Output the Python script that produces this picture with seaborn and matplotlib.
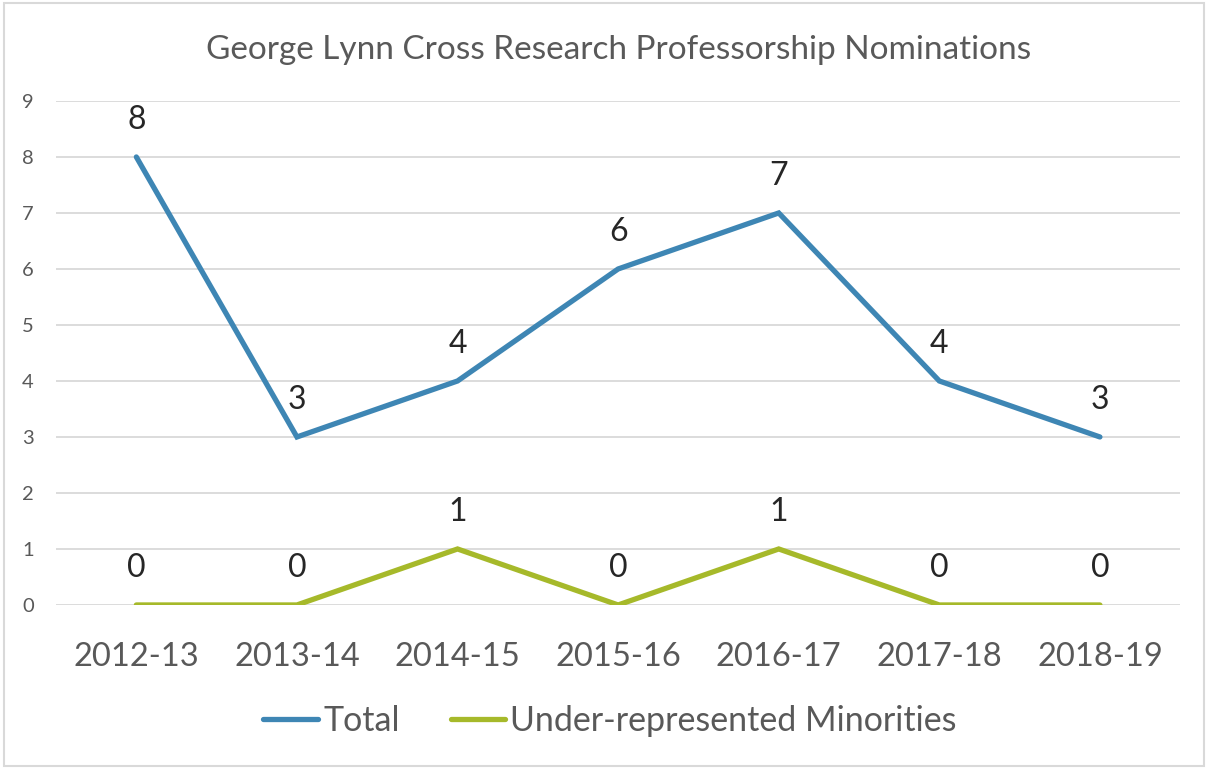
import matplotlib.pyplot as plt
import pandas as pd
import seaborn as sns

years = ["2012-13", "2013-14", "2014-15", "2015-16", "2016-17", "2017-18", "2018-19"]
total = [8, 3, 4, 6, 7, 4, 3]
urm = [0, 0, 1, 0, 1, 0, 0]
series_names = ["Total", "Under-represented Minorities"]
colors = ["#3E86B4", "#A6B92A"]

df = pd.DataFrame({
    "Year": years * 2,
    "Count": total + urm,
    "Series": [series_names[0]] * len(years) + [series_names[1]] * len(years),
})

sns.set_style("white")
plt.rcParams["font.family"] = ["Lato", "DejaVu Sans"]
text_color = "#595959"

fig = plt.figure(figsize=(12.08, 7.69), dpi=100)
ax = fig.add_axes([0.0464, 0.2133, 0.9306, 0.6554])
fig.patches.append(plt.Rectangle((0.003, 0.004), 0.994, 0.992, transform=fig.transFigure,
                                 fill=False, edgecolor="#D9D9D9", linewidth=1.5))

sns.lineplot(data=df, x="Year", y="Count", hue="Series", palette=colors,
             linewidth=3.8, sort=False, ax=ax, legend=False)
for line in ax.lines:
    line.set_solid_capstyle("round")
    line.set_solid_joinstyle("miter")

# data labels above each point
for vals in (total, urm):
    for i, v in enumerate(vals):
        ax.annotate(str(v), (i, v), xytext=(0, 16), textcoords="offset points",
                    ha="center", va="bottom", fontsize=23, color="#262626")

ax.set_xlim(-0.5, len(years) - 0.5)
ax.set_ylim(0, 9)
ax.set_yticks(range(0, 10))
ax.yaxis.grid(True, color="#D9D9D9", linewidth=1.3)
ax.set_axisbelow(True)
for s in ax.spines.values():
    s.set_visible(False)
ax.tick_params(axis="y", labelsize=14.5, colors=text_color, length=0, pad=16)
ax.tick_params(axis="x", labelsize=23.5, colors=text_color, length=0, pad=27)
ax.set_xlabel("")
ax.set_ylabel("")
ax.set_title("George Lynn Cross Research Professorship Nominations",
             fontsize=24, color=text_color, pad=30)

handles = [plt.Line2D([], [], color=c, linewidth=3.8, solid_capstyle="round") for c in colors]
fig.legend(handles, series_names, loc="center", bbox_to_anchor=(0.505, 0.063), ncol=2,
           frameon=False, fontsize=24.5, labelcolor=text_color, handlelength=1.6,
           handletextpad=0.15, columnspacing=1.5)

plt.savefig("out.png", dpi=100)
